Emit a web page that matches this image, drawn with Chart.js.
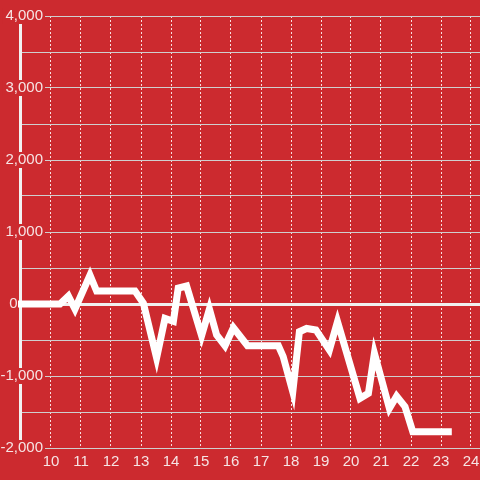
<!DOCTYPE html>
<html lang="en">
<head>
    <meta charset="UTF-8">
    <title>Chart</title>
    <script src="https://cdn.jsdelivr.net/npm/chart.js"></script>
    <style>
        html, body { margin: 0; padding: 0; background: #cc2a2f; }
        #wrap { width: 480px; height: 480px; }
    </style>
</head>
<body>
    <div id="wrap"><canvas id="chart" width="480" height="480"></canvas></div>
    <script>
    // hours on x, running total on y
    const xTicks = [10, 11, 12, 13, 14, 15, 16, 17, 18, 19, 20, 21, 22, 23, 24];
    const yTicks = [-2000, -1500, -1000, -500, 0, 500, 1000, 1500, 2000, 2500, 3000, 3500, 4000];
    const hours = [8.9, 10.3, 10.58, 10.8, 11.3, 11.52, 12.8, 13.08, 13.52, 13.8, 14.08, 14.24, 14.52,
        15.02, 15.28, 15.52, 15.8, 16.08, 16.55, 17.58, 17.74, 18.06, 18.28, 18.52, 18.83, 19.28, 19.55,
        20.3, 20.58, 20.78, 21.28, 21.52, 21.8, 22.06, 23.36];
    const totals = [0, 0, 110, -70, 400, 180, 180, 10, -750, -200, -240, 220, 250,
        -440, -70, -430, -580, -330, -580, -580, -730, -1220, -385, -340, -360, -640, -245,
        -1310, -1240, -685, -1450, -1280, -1425, -1775, -1775];

    const bg = '#cc2a2f';
    const labelColor = '#f6e4e4';

    const backgroundPlugin = {
        id: 'bg',
        beforeDraw(chart) {
            const ctx = chart.ctx;
            const a = chart.chartArea;
            ctx.save();
            ctx.fillStyle = bg;
            ctx.fillRect(0, 0, chart.width, chart.height);
            // the white bar left of the plot
            ctx.fillStyle = '#f2f2f2';
            ctx.fillRect(a.left - 27, a.top, 3, a.bottom - a.top);
            ctx.restore();
        }
    };

    new Chart(document.getElementById('chart'), {
        type: 'line',
        data: {
            datasets: [{
                data: hours.map((h, i) => ({ x: h, y: totals[i] })),
                borderColor: '#ffffff',
                borderWidth: 7,
                borderJoinStyle: 'miter',
                pointRadius: 0,
                tension: 0,
                fill: false,
                clip: false
            }]
        },
        options: {
            responsive: false,
            animation: false,
            layout: { padding: { top: 16, right: 0, left: 0, bottom: 0 } },
            plugins: { legend: { display: false }, tooltip: { enabled: false } },
            scales: {
                x: {
                    type: 'linear',
                    min: 10 - 1 / 6,
                    max: 24.3,
                    afterBuildTicks: s => { s.ticks = xTicks.map(v => ({ value: v })); },
                    afterFit: s => { s.height = 32; s.paddingLeft = 0; s.paddingRight = 0; },
                    border: { display: false, dash: [2, 2] },
                    grid: { color: 'rgba(255,255,255,0.85)', lineWidth: 1, drawTicks: false },
                    ticks: {
                        color: labelColor,
                        padding: 5,
                        maxRotation: 0,
                        autoSkip: false,
                        font: { family: '"Liberation Sans", Arial, sans-serif', size: 15 }
                    }
                },
                y: {
                    min: -2000,
                    max: 4000,
                    afterBuildTicks: s => { s.ticks = yTicks.map(v => ({ value: v })); },
                    afterFit: s => { s.width = 46; s.paddingTop = 0; s.paddingBottom = 0; },
                    border: { display: false },
                    grid: {
                        color: c => c.tick.value === 0 ? '#f0f0f0' : '#cfcfcf',
                        lineWidth: c => c.tick.value === 0 ? 3 : 1,
                        drawTicks: true,
                        tickLength: 24
                    },
                    ticks: {
                        color: labelColor,
                        padding: -21,
                        autoSkip: false,
                        font: { family: '"Liberation Sans", Arial, sans-serif', size: 15 },
                        showLabelBackdrop: true,
                        backdropPadding: { top: -1, bottom: -1, left: 3, right: 2 },
                        backdropColor: c => (c.tick.value % 1000 === 0 && c.tick.value !== 0) ? bg : 'rgba(0,0,0,0)',
                        callback: v => {
                            if (v === 0) return '0\u2003\u2002\u2009';
                            return v % 1000 === 0 ? v.toLocaleString('en-US') : '';
                        }
                    }
                }
            }
        },
        plugins: [backgroundPlugin]
    });
    </script>
</body>
</html>
